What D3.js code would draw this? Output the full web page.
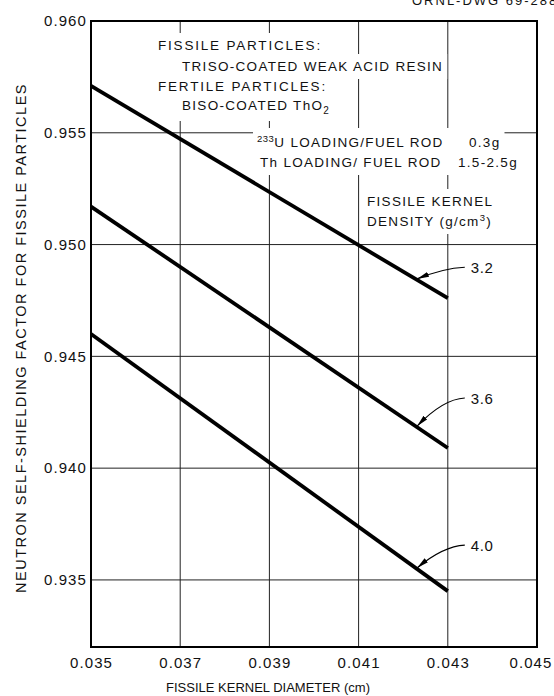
<!DOCTYPE html>
<html>
<head>
<meta charset="utf-8">
<script src="https://cdn.jsdelivr.net/npm/d3@7"></script>
<style>
  body { margin: 0; background: #fff; }
  svg text { font-family: "Liberation Sans", Arial, sans-serif; fill: #111; }
</style>
</head>
<body>
<svg id="chart" width="554" height="696"></svg>
<script>
// Kernel diameter (cm) at the two ends of each curve
const diameters = [0.035, 0.043];
// Self-shielding factor for each fissile kernel density (g/cm3)
const densityLabels = ["3.2", "3.6", "4.0"];
const factorD32 = [0.9571, 0.9476];
const factorD36 = [0.9517, 0.9409];
const factorD40 = [0.9460, 0.9345];
const seriesValues = [factorD32, factorD36, factorD40];

const xTicks = [0.035, 0.037, 0.039, 0.041, 0.043, 0.045];
const yTicks = [0.935, 0.940, 0.945, 0.950, 0.955, 0.960];
const xDomain = [0.035, 0.045];
const yDomain = [0.932, 0.960];

const svg = d3.select("#chart");
const W = 554, H = 696;
const margin = { left: 91, right: 17, top: 21, bottom: 49 };

const x = d3.scaleLinear().domain(xDomain).range([margin.left, W - margin.right]);
const y = d3.scaleLinear().domain(yDomain).range([H - margin.bottom, margin.top]);

// drawing number, trimmed by the page's top edge
svg.append("text")
  .attr("x", 412).attr("y", 5)
  .style("font-size", "13px").style("letter-spacing", "2px")
  .text("ORNL-DWG 69-2886");

// grid
const grid = svg.append("g").attr("stroke", "#222").attr("stroke-width", 1);
grid.selectAll(".gx").data(xTicks.slice(1, -1)).join("line")
  .attr("x1", d => x(d)).attr("x2", d => x(d))
  .attr("y1", y(yDomain[1])).attr("y2", y(yDomain[0]));
grid.selectAll(".gy").data(yTicks.slice(0, -1)).join("line")
  .attr("x1", x(xDomain[0])).attr("x2", x(xDomain[1]))
  .attr("y1", d => y(d)).attr("y2", d => y(d));

// axes (labels only; frame drawn separately)
const fmt = d3.format(".3f");
const yAxis = svg.append("g")
  .attr("transform", `translate(${x(xDomain[0])},0)`)
  .call(d3.axisLeft(y).tickValues(yTicks).tickFormat(fmt).tickSize(0).tickPadding(4));
const xAxis = svg.append("g")
  .attr("transform", `translate(0,${y(yDomain[0])})`)
  .call(d3.axisBottom(x).tickValues(xTicks).tickFormat(fmt).tickSize(0).tickPadding(10));
[yAxis, xAxis].forEach(a => {
  a.select(".domain").remove();
  a.selectAll("text")
    .style("font-size", "15px").style("letter-spacing", "1.1px")
    .style("font-family", "\"Liberation Sans\", Arial, sans-serif").attr("fill", "#111");
});
// keep the last diameter label inside the page
xAxis.selectAll(".tick").filter(d => d === xTicks[xTicks.length - 1])
  .select("text").attr("text-anchor", "end").attr("x", W - 2 - x(xTicks[xTicks.length - 1]));

// axis titles
svg.append("text")
  .attr("transform", `translate(26,338) rotate(-90)`)
  .attr("text-anchor", "middle")
  .style("font-size", "14.5px").style("letter-spacing", "1.5px")
  .text("NEUTRON SELF-SHIELDING FACTOR FOR FISSILE PARTICLES");
svg.append("text")
  .attr("x", 268).attr("y", 692)
  .attr("text-anchor", "middle")
  .style("font-size", "13px")
  .text("FISSILE KERNEL DIAMETER (cm)");

// annotation lines with white backing that interrupts the grid
const notes = svg.append("g");
function note(xp, yp, build, padX = 4, padTop = 5, padBot = 5) {
  const g = notes.append("g");
  const t = g.append("text").attr("x", xp).attr("y", yp)
    .style("font-size", "13.5px").style("letter-spacing", "1.3px");
  build(t);
  const b = t.node().getBBox();
  g.insert("rect", "text")
    .attr("x", b.x - padX).attr("y", b.y - padTop)
    .attr("width", b.width + 2 * padX).attr("height", b.height + padTop + padBot)
    .attr("fill", "#fff");
}
note(158, 50, t => t.text("FISSILE PARTICLES:").style("letter-spacing", "1.8px"));
note(182, 71, t => t.text("TRISO-COATED WEAK ACID RESIN"));
note(158, 91, t => t.text("FERTILE PARTICLES:").style("letter-spacing", "1.8px"));
note(182, 110, t => {
  t.append("tspan").text("BISO-COATED ThO");
  t.append("tspan").attr("dy", 4).style("font-size", "10px").text("2");
});
note(257, 147, t => {
  t.append("tspan").attr("dy", -5).style("font-size", "9.5px").style("letter-spacing", "0.5px").text("233");
  t.append("tspan").attr("dy", 5).text("U LOADING/FUEL ROD");
  t.append("tspan").attr("x", 469).text("0.3g");
});
note(260, 167, t => {
  t.append("tspan").text("Th LOADING/ FUEL ROD");
  t.append("tspan").attr("x", 458).text("1.5-2.5g");
});
note(367, 206, t => t.text("FISSILE KERNEL"));
note(367, 226, t => {
  t.append("tspan").text("DENSITY (g/cm");
  t.append("tspan").attr("dy", -5).style("font-size", "9.5px").text("3");
  t.append("tspan").attr("dy", 5).text(")");
});

// curves
const line = d3.line().x(d => x(d[0])).y(d => y(d[1]));
svg.append("g").selectAll("path").data(seriesValues).join("path")
  .attr("d", vals => line(diameters.map((dv, i) => [dv, vals[i]])))
  .attr("fill", "none").attr("stroke", "#000").attr("stroke-width", 3.8)
  .attr("stroke-linecap", "butt");

// density labels with curved arrow leaders
svg.append("defs").append("marker")
  .attr("id", "head").attr("viewBox", "0 0 12 6")
  .attr("refX", 12).attr("refY", 3)
  .attr("markerWidth", 12).attr("markerHeight", 6)
  .attr("markerUnits", "userSpaceOnUse").attr("orient", "auto")
  .append("path").attr("d", "M0,0.4 L12,3 L0,5.6 Z").attr("fill", "#000");

const labelRise = [30, 49, 45];   // px above each curve's end point
const tipDiameter = 0.04231;
const lab = svg.append("g");
seriesValues.forEach((vals, i) => {
  const endY = y(vals[1]);
  const ly = endY - labelRise[i];
  const lx = x(diameters[1]) + 23;
  const tVal = vals[0] + (vals[1] - vals[0]) * (tipDiameter - diameters[0]) / (diameters[1] - diameters[0]);
  const tx = x(tipDiameter), ty = y(tVal) - 1;
  const sx = lx - 6, sy = ly - 1;
  const cx = sx - (sx - tx) * 0.45, cy = sy + 1;
  lab.append("path")
    .attr("d", `M${sx},${sy} Q${cx},${cy} ${tx},${ty}`)
    .attr("fill", "none").attr("stroke", "#000").attr("stroke-width", 1.2)
    .attr("marker-end", "url(#head)");
  lab.append("text").attr("x", lx).attr("y", ly + 5)
    .style("font-size", "15px").style("letter-spacing", "0.6px")
    .text(densityLabels[i]);
});

// frame
svg.append("rect")
  .attr("x", x(xDomain[0])).attr("y", y(yDomain[1]))
  .attr("width", x(xDomain[1]) - x(xDomain[0]))
  .attr("height", y(yDomain[0]) - y(yDomain[1]))
  .attr("fill", "none").attr("stroke", "#000").attr("stroke-width", 2);
</script>
</body>
</html>
